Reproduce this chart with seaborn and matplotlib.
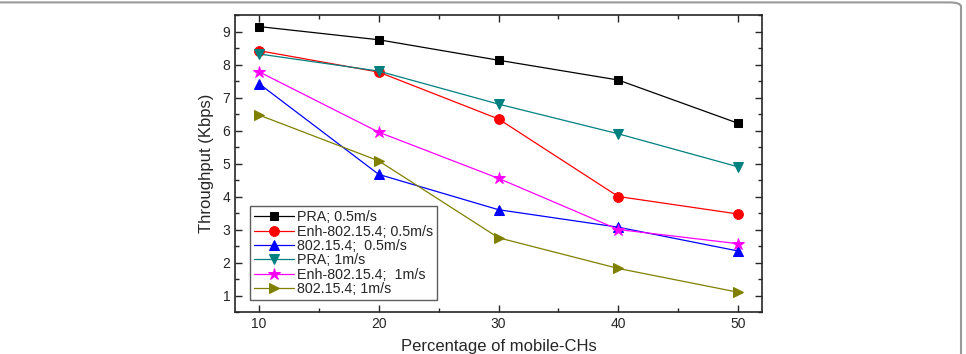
import pandas as pd
import matplotlib.pyplot as plt
import seaborn as sns
from matplotlib.patches import FancyBboxPatch
from matplotlib.ticker import MultipleLocator

# percentage of mobile cluster heads
pct = [10, 20, 30, 40, 50]

# throughput (Kbps)
pra_05 = [9.15, 8.75, 8.13, 7.53, 6.22]
enh_05 = [8.42, 7.77, 6.35, 4.00, 3.47]
std_05 = [7.42, 4.67, 3.60, 3.07, 2.35]
pra_1 = [8.32, 7.80, 6.80, 5.90, 4.90]
enh_1 = [7.78, 5.95, 4.55, 3.00, 2.57]
std_1 = [6.47, 5.08, 2.75, 1.82, 1.10]

labels = ['PRA; 0.5m/s', 'Enh-802.15.4; 0.5m/s', '802.15.4;  0.5m/s',
          'PRA; 1m/s', 'Enh-802.15.4;  1m/s', '802.15.4; 1m/s']
series = [pra_05, enh_05, std_05, pra_1, enh_1, std_1]
colors = ['black', 'red', 'blue', '#008080', 'magenta', '#808000']
markers = ['s', 'o', '^', 'v', '*', '>']
msizes = [6, 7, 7, 7, 9, 7]

sns.set_style('ticks')
plt.rcParams['font.family'] = ['Liberation Sans', 'DejaVu Sans']

fig = plt.figure(figsize=(9.66, 3.54), dpi=100)
ax = fig.add_axes([0.2433, 0.1186, 0.5455, 0.839])

for lab, vals, c, m, ms in zip(labels, series, colors, markers, msizes):
    d = pd.DataFrame({'x': pct, 'y': vals})
    sns.lineplot(data=d, x='x', y='y', ax=ax, color=c, marker=m, markersize=ms,
                 markeredgecolor=c, linewidth=0.9, label=lab)

ax.set_xlim(8, 52)
ax.set_ylim(0.5, 9.5)
ax.set_xticks(pct)
ax.set_yticks(range(1, 10))
ax.xaxis.set_minor_locator(MultipleLocator(5))
ax.yaxis.set_minor_locator(MultipleLocator(0.5))
ax.tick_params(which='both', direction='in', top=True, right=True, labelsize=10)
ax.tick_params(which='major', length=5, width=1)
ax.tick_params(which='minor', length=3, width=1)
for s in ax.spines.values():
    s.set_linewidth(1.2)

ax.set_xlabel('Percentage of mobile-CHs', fontsize=12, labelpad=6)
ax.set_ylabel('Throughput (Kbps)', fontsize=12, labelpad=6)

leg = ax.legend(loc='lower left', bbox_to_anchor=(0.028, 0.04), fontsize=10.3,
                frameon=True, fancybox=False, edgecolor='#333333',
                labelspacing=0.02, handlelength=2.8, handletextpad=0.2,
                borderpad=0.3, borderaxespad=0)
leg.get_frame().set_linewidth(1.0)

# grey page frame around the figure
fig.add_artist(FancyBboxPatch((-0.05, -0.2), 0.05 + 961 / 966, 0.2 + 353 / 354 - 0.004,
                              boxstyle='round,pad=0,rounding_size=0.012',
                              transform=fig.transFigure, fill=False,
                              edgecolor='#999999', linewidth=1.5))

fig.savefig('out.png', dpi=100)
